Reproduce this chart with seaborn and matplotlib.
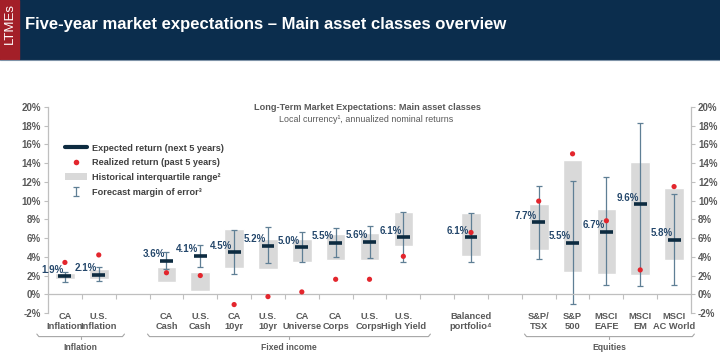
import numpy as np
import pandas as pd
import matplotlib.pyplot as plt
import seaborn as sns
from matplotlib.lines import Line2D
from matplotlib.patches import Patch, Rectangle

# Data (% annualized)
categories = ["CA\nInflation", "U.S.\nInflation", "CA\nCash", "U.S.\nCash", "CA\n10yr",
              "U.S.\n10yr", "CA\nUniverse", "CA\nCorps", "U.S.\nCorps", "U.S.\nHigh Yield",
              "Balanced\nportfolio⁴", "S&P/\nTSX", "S&P\n500", "MSCI\nEAFE", "MSCI\nEM",
              "MSCI\nAC World"]
slots = [0, 1, 3, 4, 5, 6, 7, 8, 9, 10, 12, 14, 15, 16, 17, 18]
expected = [1.9, 2.1, 3.6, 4.1, 4.5, 5.2, 5.0, 5.5, 5.6, 6.1, 6.1, 7.7, 5.5, 6.7, 9.6, 5.8]
realized = [3.4, 4.2, 2.3, 2.0, -1.1, -0.25, 0.25, 1.6, 1.6, 4.05, 6.6, 9.95, 15.0, 7.85, 2.6, 11.5]
iqr_low = [1.6, 1.6, 1.3, 0.4, 2.8, 2.7, 3.4, 3.7, 3.7, 5.15, 4.1, 4.7, 2.4, 2.2, 2.1, 3.7]
iqr_high = [2.25, 2.65, 2.95, 2.4, 7.0, 5.9, 5.9, 6.4, 6.5, 8.8, 8.7, 9.6, 14.3, 9.1, 14.15, 11.4]
err_low = [1.35, 1.4, 2.7, 2.9, 2.2, 3.3, 3.4, 3.95, 3.9, 3.5, 3.5, 3.8, -1.0, 1.0, 0.9, 1.0]
err_high = [2.35, 2.9, 4.5, 5.3, 6.9, 7.15, 6.6, 7.05, 7.3, 8.8, 8.7, 11.6, 12.1, 12.5, 18.3, 10.7]

groups = ["Inflation", "Fixed income", "Equities"]
group_spans = [(-0.83, 1.76), (2.44, 10.8), (13.58, 18.6)]

yticks = list(range(-2, 21, 2))

NAVY = "#0b2d4d"
RED_BAND = "#a31f28"
LINE_NAVY = "#0d2b40"
ERR = "#5f7f95"
DOT = "#e3262d"
BOX = "#d9d9d9"
TXT = "#595959"
LBL = "#24476b"

sns.set_theme(style="white")
plt.rcParams['font.family'] = ['Liberation Sans', 'DejaVu Sans']

df = pd.DataFrame({"slot": slots, "cat": categories, "expected": expected,
                   "realized": realized, "iqr_low": iqr_low, "iqr_high": iqr_high,
                   "err_low": err_low, "err_high": err_high})

fig = plt.figure(figsize=(7.2, 3.53), dpi=100)
ax = fig.add_axes([48 / 720, 1 - 313 / 353, 643 / 720, 206 / 353])

# header band
fig.patches.append(Rectangle((0, 1 - 59 / 353), 1, 59 / 353, transform=fig.transFigure,
                             color=NAVY, zorder=0))
fig.patches.append(Rectangle((0, 1 - 59 / 353), 19 / 720, 59 / 353, transform=fig.transFigure,
                             color=RED_BAND, zorder=1))
fig.add_artist(Line2D([0, 1], [1 - 59.5 / 353] * 2, transform=fig.transFigure,
                      color="#7f93a8", lw=0.8))
fig.text(9.5 / 720, 1 - 24 / 353, "LTMEs", rotation=90, color="white", fontsize=9.5,
         ha="center", va="center")
fig.text(25 / 720, 1 - 25 / 353, "Five-year market expectations – Main asset classes overview",
         color="white", fontsize=12, fontweight="bold", ha="left", va="center")

# chart subtitles
fig.text(367 / 720, 1 - 107 / 353, "Long-Term Market Expectations: Main asset classes",
         color=TXT, fontsize=6.6, fontweight="bold", ha="center", va="center")
fig.text(366 / 720, 1 - 120 / 353, "Local currency¹, annualized nominal returns",
         color=TXT, fontsize=6.4, ha="center", va="center")

# interquartile boxes
ax.bar(df["slot"], df["iqr_high"] - df["iqr_low"], bottom=df["iqr_low"], width=0.58,
       color=BOX, zorder=1)

# forecast margin of error
err = ax.errorbar(df["slot"], df["expected"],
                  yerr=[df["expected"] - df["err_low"], df["err_high"] - df["expected"]],
                  fmt="none", ecolor=ERR, elinewidth=0.9, capsize=2, capthick=0.9, zorder=2)

# expected return
ax.hlines(df["expected"], df["slot"] - 0.19, df["slot"] + 0.19, color=LINE_NAVY,
          lw=2.6, zorder=3)

# realized return
sns.scatterplot(data=df, x="slot", y="realized", color=DOT, s=14, edgecolor="none",
                zorder=4, ax=ax, legend=False)

for _, r in df.iterrows():
    ax.text(r["slot"] - 0.05, r["expected"] + 0.7, f"{r['expected']:.1f}%", ha="right",
            va="center", fontsize=7, fontweight="bold", color=LBL, zorder=5)
    ax.text(r["slot"], -1.85, r["cat"], ha="center", va="top", fontsize=6.7,
            fontweight="bold", color=TXT, linespacing=1.15, clip_on=False)

# group brackets
for name, (a, b) in zip(groups, group_spans):
    mid = (a + b) / 2
    ax.plot([a, a + 0.06, b - 0.06, b], [-4.25, -4.52, -4.52, -4.25], color="#a6a6a6",
            lw=0.8, clip_on=False)
    ax.plot([mid, mid], [-4.52, -4.8], color="#a6a6a6", lw=0.8, clip_on=False)
    ax.text(mid, -5.65, name, ha="center", va="center", fontsize=6.2, fontweight="bold",
            color=TXT, clip_on=False)

ax.set_xlim(-0.5, 18.5)
ax.set_ylim(-2, 20)
ax.set_yticks(yticks)
ax.set_yticklabels([f"{t}%" for t in yticks])
ax.set_xticks(np.arange(0.5, 18, 1))
ax.set_xticklabels([])
ax.set_xlabel("")
ax.set_ylabel("")

for s in ["left", "right", "bottom"]:
    ax.spines[s].set_color("#bfbfbf")
    ax.spines[s].set_linewidth(0.9)
ax.spines["top"].set_visible(False)
ax.spines["bottom"].set_position(("data", 0))
ax.tick_params(axis="y", left=True, right=True, labelleft=True, labelright=True,
               length=3, width=0.8, color="#bfbfbf", labelsize=7, labelcolor=TXT, pad=2)
ax.tick_params(axis="x", bottom=True, length=3.5, width=0.8, color="#bfbfbf", direction="out")
for lab in ax.get_yticklabels():
    lab.set_fontweight("bold")

handles = [
    Line2D([0], [0], color=LINE_NAVY, lw=3),
    Line2D([0], [0], marker="o", color="none", markerfacecolor=DOT, markeredgecolor="none",
           markersize=4),
    Patch(facecolor=BOX, edgecolor="none"),
    err,
]
labels = ["Expected return (next 5 years)", "Realized return (past 5 years)",
          "Historical interquartile range²", "Forecast margin of error³"]
leg = ax.legend(handles, labels, loc="upper left", bbox_to_anchor=(0.02, 0.845),
                frameon=False, fontsize=6.6, handlelength=2.4, handletextpad=0.5,
                labelspacing=0.62, borderpad=0)
for t in leg.get_texts():
    t.set_color("#404040")
    t.set_fontweight("bold")

fig.savefig("out.png", dpi=100)
